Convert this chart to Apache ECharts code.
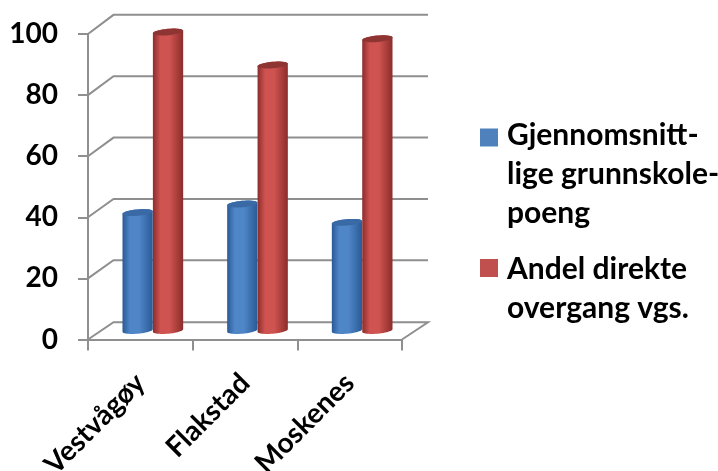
<!DOCTYPE html>
<html><head><meta charset="utf-8">
<style>html,body{margin:0;padding:0;background:#fff}#c{width:718px;height:471px}</style>
<script src="https://cdn.jsdelivr.net/npm/echarts@6/dist/echarts.min.js"></script>
</head><body><div id="c"></div>
<script>
const categories = ['Vestvågøy', 'Flakstad', 'Moskenes'];
const seriesNames = ['Gjennomsnitt-\nlige grunnskole-\npoeng', 'Andel direkte\novergang vgs.'];
const grunnskolepoeng = [38.5, 41.3, 35.3];
const direkteOvergang = [97.6, 86.8, 95.4];
const yTicks = [0, 20, 40, 60, 80, 100];

const FONT = 'Lato';
const GRID = '#8f8f8f';
const depthX = 25.5, depthY = 18.5;

function ellipsePts(cx, cy, rx, ry, tilt, a0, a1, n) {
  const pts = [];
  for (let i = 0; i <= n; i++) {
    const a = a0 + (a1 - a0) * i / n;
    const x = rx * Math.cos(a), y = ry * Math.sin(a);
    pts.push([cx + x * Math.cos(tilt) - y * Math.sin(tilt), cy + x * Math.sin(tilt) + y * Math.cos(tilt)]);
  }
  return pts;
}
function grad(edge, mid) {
  return new echarts.graphic.LinearGradient(0, 0, 1, 0, [
    {offset: 0, color: edge}, {offset: 0.25, color: mid}, {offset: 0.55, color: mid}, {offset: 1, color: edge}
  ]);
}
function cylinder(side, edge, mid, cap) {
  return function (params, api) {
    const idx = api.value(0), v = api.value(1);
    const top = api.coord([idx, v]), base = api.coord([idx, 0]);
    const cx = top[0] + 12.5 + side * 15.2;
    const yT = top[1] - 9.3, yB = base[1] - 9;
    const rx = 15.2, ry = 3.2, tilt = -0.09;
    const body = ellipsePts(cx, yB, rx, ry, tilt, 0, Math.PI, 24)
      .concat(ellipsePts(cx, yT, rx, ry, tilt, Math.PI, 2 * Math.PI, 24));
    return {type: 'group', children: [
      {type: 'polygon', shape: {points: body}, style: {fill: grad(edge, mid)}},
      {type: 'polygon', shape: {points: ellipsePts(cx, yT, rx, ry, tilt, 0, 2 * Math.PI, 36)}, style: {fill: cap}}
    ]};
  };
}
function wall(params, api) {
  const v = api.value(0);
  const p = api.coord([0, v]);
  const r = params.coordSys;
  const d = depthY - (v === 0 ? 0.6 : 0) + (v - 50) * 0.013;
  const pts = [[r.x, p[1]], [r.x + depthX, p[1] - d], [r.x + r.width + depthX + 0.5, p[1] - d]];
  if (v === 0) pts.push([r.x + r.width, p[1]]);
  return {type: 'polyline', shape: {points: pts}, style: {stroke: GRID, lineWidth: 2, fill: null}};
}

const chart = echarts.init(document.getElementById('c'), null, {renderer: 'canvas'});
chart.setOption({
  animation: false,
  backgroundColor: '#fff',
  textStyle: {fontFamily: FONT},
  grid: {left: 88, right: 316, top: 34, bottom: 131.5, containLabel: false, outerBoundsMode: 'none'},
  xAxis: {
    type: 'category', data: categories,
    axisLine: {lineStyle: {color: GRID, width: 2}},
    axisTick: {show: true, alignWithLabel: false, length: 11, lineStyle: {color: GRID, width: 2}},
    axisLabel: {rotate: 45, margin: 39, interval: 0, fontFamily: FONT, fontWeight: 'bold', fontSize: 28, color: '#000'}
  },
  yAxis: {
    type: 'value', min: 0, max: 100, interval: 20,
    axisLine: {show: true, lineStyle: {color: GRID, width: 2}},
    axisTick: {show: true, length: 10, lineStyle: {color: GRID, width: 2}},
    splitLine: {show: false},
    axisLabel: {margin: 30, fontFamily: FONT, fontWeight: 'bold', fontSize: 28, color: '#000', padding: [4, 0, 0, 0]}
  },
  legend: {
    orient: 'vertical', left: 480, top: 116, itemWidth: 22, itemHeight: 100, itemGap: 6, padding: 0,
    selectedMode: false,
    textStyle: {fontFamily: FONT, fontWeight: 'bold', fontSize: 30, lineHeight: 39, color: '#000'},
    data: [
      {name: seriesNames[0], icon: 'path://M0,0L0,0M22,0L22,0M0,4L18,4L18,22L0,22ZM0,100L0,100', itemStyle: {color: '#4f81bd'}},
      {name: seriesNames[1], icon: 'path://M0,0L0,0M22,0L22,0M0,20L18,20L18,38L0,38ZM0,100L0,100', itemStyle: {color: '#c0504d'}}
    ]
  },
  tooltip: {show: false},
  series: [
    {type: 'custom', name: 'Rutenett', silent: true, z: 1, renderItem: wall, data: yTicks.map(v => [v]), encode: {y: 0}},
    {type: 'custom', name: seriesNames[0], z: 2, itemStyle: {color: '#4f81bd'},
     renderItem: cylinder(-1, '#2a5a96', '#4f86c8', '#3a6aa6'),
     data: grunnskolepoeng.map((v, i) => [i, v]), encode: {x: 0, y: 1}},
    {type: 'custom', name: seriesNames[1], z: 3, itemStyle: {color: '#c0504d'},
     renderItem: cylinder(1, '#8c2d2b', '#cf5350', '#8e3533'),
     data: direkteOvergang.map((v, i) => [i, v]), encode: {x: 0, y: 1}}
  ]
});
</script></body></html>
